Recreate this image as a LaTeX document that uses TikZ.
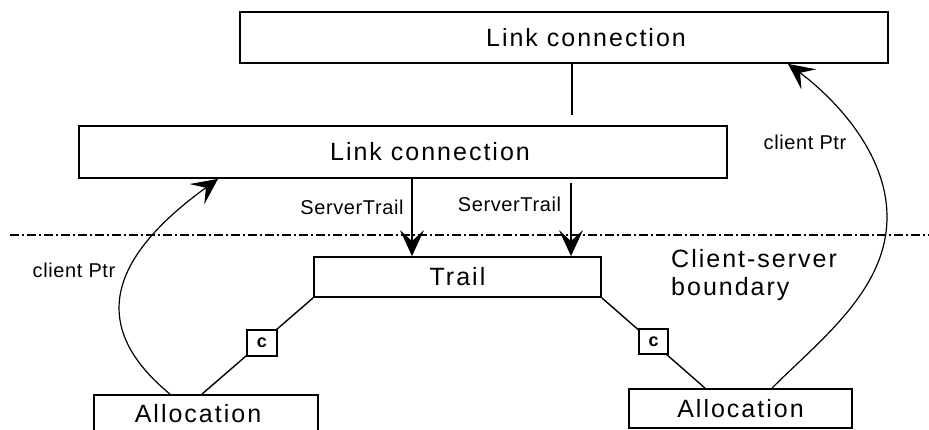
\documentclass[tikz,border=0pt]{standalone}
\usepackage{fontspec}
\setmainfont{Liberation Sans}
\newfontfamily\bigfont[LetterSpace=8]{Liberation Sans}
\newfontfamily\smallfont[LetterSpace=3]{Liberation Sans}
\usetikzlibrary{arrows.meta}
\begin{document}
\begin{tikzpicture}[x=1pt,y=-1pt,
  box/.style={draw, line width=1.8pt, inner sep=0pt, fill=white,
    font={\bigfont\fontsize{25}{28}\selectfont}},
  cbox/.style={draw, line width=1.3pt, inner sep=0pt, fill=white,
    font={\bfseries\fontsize{18}{18}\selectfont}},
  lbl/.style={inner sep=0pt, font={\smallfont\fontsize{20}{24}\selectfont}},
  bigtext/.style={inner sep=0pt, align=left, font={\bigfont\fontsize{25}{28}\selectfont}},
  conn/.style={line width=1.6pt},
  strail/.style={line width=1.7pt, -{Stealth[length=26pt,width=24pt,inset=11pt]}},
  ptr/.style={line width=1.2pt, -{Stealth[length=26pt,width=25pt,inset=11pt]}},
  boundary/.style={line width=1.3pt, dash pattern=on 9pt off 3pt on 2pt off 3pt}]
\useasboundingbox (0,0) rectangle (929,430);

% boxes
\node[box, minimum width=648pt, minimum height=51pt] (top) at (564,37.5) {\hspace*{44pt}Link connection};
\node[box, minimum width=648pt, minimum height=52pt] (lc2) at (403,152) {\hspace*{54pt}Link connection};
\node[box, minimum width=287pt, minimum height=40pt] (trail) at (457.5,277) {Trail};
\node[box, minimum width=224pt, minimum height=38pt] (allocL) at (206,414) {Allocation\hspace*{16pt}};
\node[box, minimum width=223pt, minimum height=39pt] (allocR) at (740.5,408.5) {\raisebox{-2pt}{Allocation}};

% client-server boundary
\coordinate (bl) at (10,235);
\coordinate (br) at (929,235);
\draw[boundary] (bl) -- (br);
\node[bigtext, anchor=north west] (bnd) at (671,249) {Client-server\\boundary};

% link connection to link connection
\coordinate (v1) at (572,115);
\draw[conn] ([xshift=8pt]top.south) -- (v1);

% server trail arrows
\coordinate (s2) at (571,183);
\draw[strail] ([xshift=9pt]lc2.south) -- ([xshift=-45.5pt]trail.north);
\draw[strail] (s2) -- ([xshift=113.5pt]trail.north);
\node[lbl] (st1) at (352,207) {ServerTrail};
\node[lbl] (st2) at (509.5,204) {ServerTrail};

% trail to allocations
\draw[conn, line width=1.4pt] (trail.south west) -- ([xshift=-4pt]allocL.north);
\draw[conn, line width=1.4pt] (trail.south east) -- ([xshift=-35.5pt]allocR.north);
\node[cbox, minimum width=30pt, minimum height=26pt] (cL) at (262,343) {c};
\node[cbox, minimum width=29pt, minimum height=25pt] (cR) at (653.5,341.5) {c};

% client pointers
\draw[ptr] ([xshift=-36pt]allocL.north) .. controls (80,320) and (120,250) .. ([xshift=-185pt]lc2.south);
\draw[ptr] ([xshift=31.5pt]allocR.north) .. controls (820,340) and (887,290) .. (887,217)
  .. controls (887,150) and (830,95) .. ([xshift=224pt]top.south);
\node[lbl] (cp1) at (74,270) {client Ptr};
\node[lbl] (cp2) at (805,142.5) {client Ptr};
\end{tikzpicture}
\end{document}
